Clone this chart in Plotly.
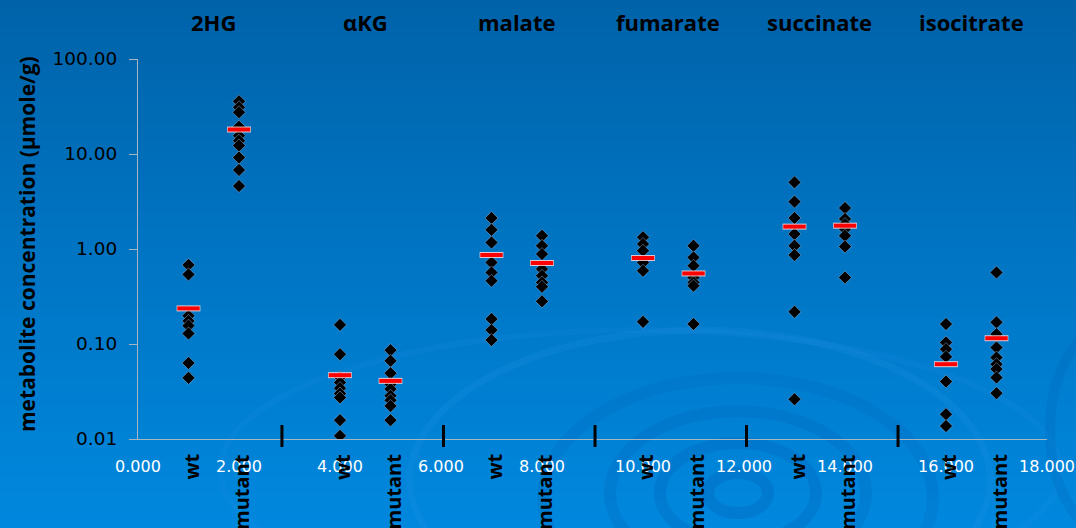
import plotly.graph_objects as go

# Metabolites measured in wild-type and mutant tissue
metabolites = ["2HG", "αKG", "malate", "fumarate", "succinate", "isocitrate"]
wt_x = [1, 4, 7, 10, 13, 16]
mutant_x = [2, 5, 8, 11, 14, 17]

# Individual sample concentrations (µmole/g)
wt_values = [
    [0.68, 0.54, 0.198, 0.175, 0.156, 0.129, 0.063, 0.044],
    [0.159, 0.078, 0.0444, 0.0393, 0.0343, 0.0301, 0.0273, 0.0158, 0.0108],
    [2.12, 1.59, 1.17, 0.722, 0.567, 0.463, 0.183, 0.140, 0.110],
    [1.33, 1.13, 0.96, 0.723, 0.59, 0.171],
    [5.03, 3.15, 2.12, 1.44, 1.08, 0.865, 0.218, 0.0262],
    [0.162, 0.104, 0.0883, 0.0733, 0.0403, 0.0182, 0.0137],
]
mutant_values = [
    [35.9, 31.0, 27.5, 19.4, 15.6, 13.8, 12.3, 9.2, 6.8, 4.6],
    [0.0862, 0.0665, 0.0493, 0.0378, 0.0335, 0.0285, 0.0256, 0.0223, 0.0158],
    [1.38, 1.08, 0.885, 0.615, 0.523, 0.445, 0.401, 0.281],
    [1.08, 0.816, 0.667, 0.502, 0.445, 0.411, 0.162],
    [2.70, 2.07, 1.83, 1.62, 1.38, 1.06, 0.502],
    [0.567, 0.169, 0.127, 0.0918, 0.0721, 0.0613, 0.0544, 0.0444, 0.0304],
]

# Group means
wt_means = [0.237, 0.047, 0.865, 0.804, 1.72, 0.0613]
mutant_means = [18.1, 0.0409, 0.712, 0.553, 1.76, 0.115]

# Group separators along the x axis
separator_x = [2.85, 6.05, 9.05, 12.05, 15.05]

y_tickvals = [0.01, 0.1, 1, 10, 100]
y_ticktext = ["0.01", "0.10", "1.00", "10.00", "100.00"]
x_tickvals = [0, 2, 4, 6, 8, 10, 12, 14, 16, 18]

W, H = 1076, 528
L, R, T, B = 138, 29, 59, 89
PW, PH = W - L - R, H - T - B


def px_to_paper(px, py):
    return (px - L) / PW, (H - B - py) / PH


fig = go.Figure()

# Sample points
for xs, groups in ((wt_x, wt_values), (mutant_x, mutant_values)):
    px, py = [], []
    for x, vals in zip(xs, groups):
        px += [x] * len(vals)
        py += vals
    fig.add_trace(go.Scatter(
        x=px, y=py, mode="markers",
        marker=dict(symbol="diamond", size=10, color="black",
                    line=dict(width=0.6, color="rgba(170,210,255,0.7)")),
        showlegend=False, hoverinfo="y",
    ))

# Mean bars
mean_x = wt_x + mutant_x
mean_y = wt_means + mutant_means
fig.add_trace(go.Scatter(
    x=mean_x, y=mean_y, mode="markers",
    marker=dict(symbol="line-ew", size=17,
                line=dict(width=6, color="rgba(255,215,215,0.85)")),
    showlegend=False, hoverinfo="skip",
))
fig.add_trace(go.Scatter(
    x=mean_x, y=mean_y, mode="markers",
    marker=dict(symbol="line-ew", size=16,
                line=dict(width=4, color="#ff0000")),
    showlegend=False, hoverinfo="y",
))

shapes = []

# Blue gradient background
top_rgb = (0, 99, 170)
bot_rgb = (0, 136, 222)
n_bands = 60
for i in range(n_bands):
    f = i / (n_bands - 1)
    c = tuple(round(a + (b - a) * f) for a, b in zip(top_rgb, bot_rgb))
    y0p = H * i / n_bands
    y1p = H * (i + 1) / n_bands + 1
    x0, y0 = px_to_paper(0, y0p)
    x1, y1 = px_to_paper(W, y1p)
    shapes.append(dict(type="rect", xref="paper", yref="paper",
                       x0=x0, x1=x1, y0=y1, y1=y0, layer="below",
                       line=dict(width=0), fillcolor="rgb(%d,%d,%d)" % c))

# Decorative ripple rings
rings = [
    (738, 493, 30, 20, "rgba(0,100,185,0.35)", 12),
    (738, 493, 78, 50, "rgba(0,100,185,0.30)", 12),
    (738, 493, 128, 82, "rgba(0,100,185,0.26)", 12),
    (738, 498, 195, 120, "rgba(0,100,185,0.22)", 12),
    (700, 480, 290, 150, "rgba(40,150,235,0.18)", 7),
    (640, 470, 420, 140, "rgba(40,150,235,0.12)", 6),
    (1120, 430, 70, 110, "rgba(0,100,185,0.25)", 10),
]
for cx, cy, rx, ry, col, lw in rings:
    x0, y0 = px_to_paper(cx - rx, cy + ry)
    x1, y1 = px_to_paper(cx + rx, cy - ry)
    shapes.append(dict(type="circle", xref="paper", yref="paper",
                       x0=x0, x1=x1, y0=y0, y1=y1, layer="below",
                       line=dict(width=lw, color=col)))

# Separator marks crossing the x axis
for sx in separator_x:
    _, ya = px_to_paper(0, 425)
    _, yb = px_to_paper(0, 447)
    shapes.append(dict(type="line", xref="x", yref="paper",
                       x0=sx, x1=sx, y0=yb, y1=ya,
                       line=dict(width=3, color="black")))

annotations = []
title_font = dict(family="Open Sans", size=22, color="black", weight=700)

# Metabolite names above each pair
_, ytitle = px_to_paper(0, 22)
for name, a, b in zip(metabolites, wt_x, mutant_x):
    annotations.append(dict(x=(a + b) / 2, y=ytitle, xref="x", yref="paper",
                            text=name, showarrow=False, font=title_font,
                            xanchor="center", yanchor="middle"))

# Genotype labels under the axis
_, ylab = px_to_paper(0, 452)
for xs, label in ((wt_x, "wt"), (mutant_x, "mutant")):
    for x in xs:
        annotations.append(dict(x=x, y=ylab, xref="x", yref="paper",
                                text=label, showarrow=False, textangle=-90,
                                font=dict(family="Open Sans", size=20,
                                          color="black", weight=700),
                                xanchor="center", yanchor="top", xshift=2))

# Y axis title
xt, yt = px_to_paper(27, 244)
annotations.append(dict(x=xt, y=yt, xref="paper", yref="paper",
                        text="metabolite concentration (µmole/g)",
                        showarrow=False, textangle=-90,
                        font=dict(family="Open Sans", size=21, color="black",
                                  weight=700),
                        xanchor="center", yanchor="middle"))

fig.update_layout(
    width=W, height=H,
    margin=dict(l=L, r=R, t=T, b=B, pad=0),
    paper_bgcolor="rgb(0,120,200)",
    plot_bgcolor="rgba(0,0,0,0)",
    shapes=shapes,
    annotations=annotations,
    showlegend=False,
    xaxis=dict(
        range=[0, 18], tickvals=x_tickvals,
        ticktext=["%.3f" % v for v in x_tickvals],
        tickfont=dict(family="DejaVu Sans", size=16, color="white"),
        ticks="", ticklabelstandoff=13, automargin=False,
        showline=True, linecolor="#a9b4bf", linewidth=1,
        showgrid=False, zeroline=False,
    ),
    yaxis=dict(
        type="log", range=[-2, 2],
        tickvals=y_tickvals, ticktext=y_ticktext,
        tickfont=dict(family="DejaVu Sans", size=18.5, color="black"),
        ticks="outside", ticklen=8, tickcolor="#a9b4bf", tickwidth=1,
        ticklabelstandoff=8, automargin=False,
        showline=True, linecolor="#a9b4bf", linewidth=1,
        showgrid=False, zeroline=False,
    ),
)

fig.write_html("out.html")
